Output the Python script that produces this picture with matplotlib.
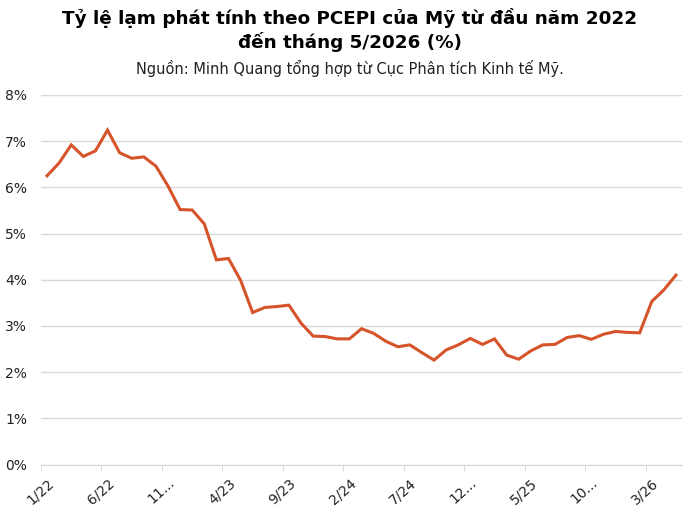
import matplotlib
matplotlib.use("Agg")
import matplotlib.pyplot as plt
from matplotlib.ticker import FixedLocator, PercentFormatter

# monthly PCEPI inflation, 1/2022 - 5/2026 (%)
months = [f"{m}/{y:02d}" for y in range(22, 27) for m in range(1, 13)][:53]
values = [6.25, 6.53, 6.92, 6.67, 6.79, 7.24, 6.75, 6.63, 6.66, 6.46,
          6.03, 5.52, 5.51, 5.21, 4.43, 4.46, 3.99, 3.29, 3.40, 3.42,
          3.45, 3.06, 2.78, 2.77, 2.72, 2.72, 2.94, 2.84, 2.67, 2.55,
          2.59, 2.42, 2.26, 2.48, 2.59, 2.73, 2.60, 2.72, 2.37, 2.28,
          2.46, 2.59, 2.60, 2.75, 2.79, 2.71, 2.82, 2.88, 2.86, 2.85,
          3.53, 3.78, 4.10]
tick_labels = ["1/22", "6/22", "11...", "4/23", "9/23", "2/24", "7/24",
               "12...", "5/25", "10...", "3/26"]

title = "Tỷ lệ lạm phát tính theo PCEPI của Mỹ từ đầu năm 2022\nđến tháng 5/2026 (%)"
subtitle = "Nguồn: Minh Quang tổng hợp từ Cục Phân tích Kinh tế Mỹ."

plt.rcParams['font.family'] = ['DejaVu Sans']

fig = plt.figure(figsize=(7, 5.14), dpi=100)
ax = fig.add_axes([41 / 700, 1 - 464.5 / 514, 641 / 700, (464.5 - 95) / 514])

x = list(range(len(values)))
ax.plot(x, values, color='#D6542A', linewidth=2.2, solid_joinstyle='miter')

ax.set_xlim(-0.5, len(values) - 0.5)
ax.set_ylim(0, 8)
ax.yaxis.set_major_formatter(PercentFormatter(decimals=0))
ax.set_yticks(range(0, 9))
ax.grid(axis='y', color='#D9D9D9', linewidth=1)
ax.set_axisbelow(True)

ax.set_xticks(x[::5])
ax.set_xticklabels(tick_labels, rotation=42, ha='right', rotation_mode='anchor')
ax.xaxis.set_minor_locator(FixedLocator([i - 0.5 for i in x[::5]]))
ax.tick_params(axis='x', which='major', length=0, pad=8, labelsize=10, colors='#222222')
ax.tick_params(axis='x', which='minor', length=4, color='#D9D9D9')
ax.tick_params(axis='y', length=0, pad=10, labelsize=10, colors='#222222')

for s in ['top', 'right', 'left']:
    ax.spines[s].set_visible(False)
ax.spines['bottom'].set_color('#D9D9D9')

fig.text(0.5, 1 - 30 / 514, title, ha='center', va='center', fontsize=13.2,
         fontweight='bold', linespacing=1.3)
fig.text(0.5, 1 - 68 / 514, subtitle, ha='center', va='center', fontsize=10.5,
         color='#222222')

fig.savefig("out.png", dpi=100)
